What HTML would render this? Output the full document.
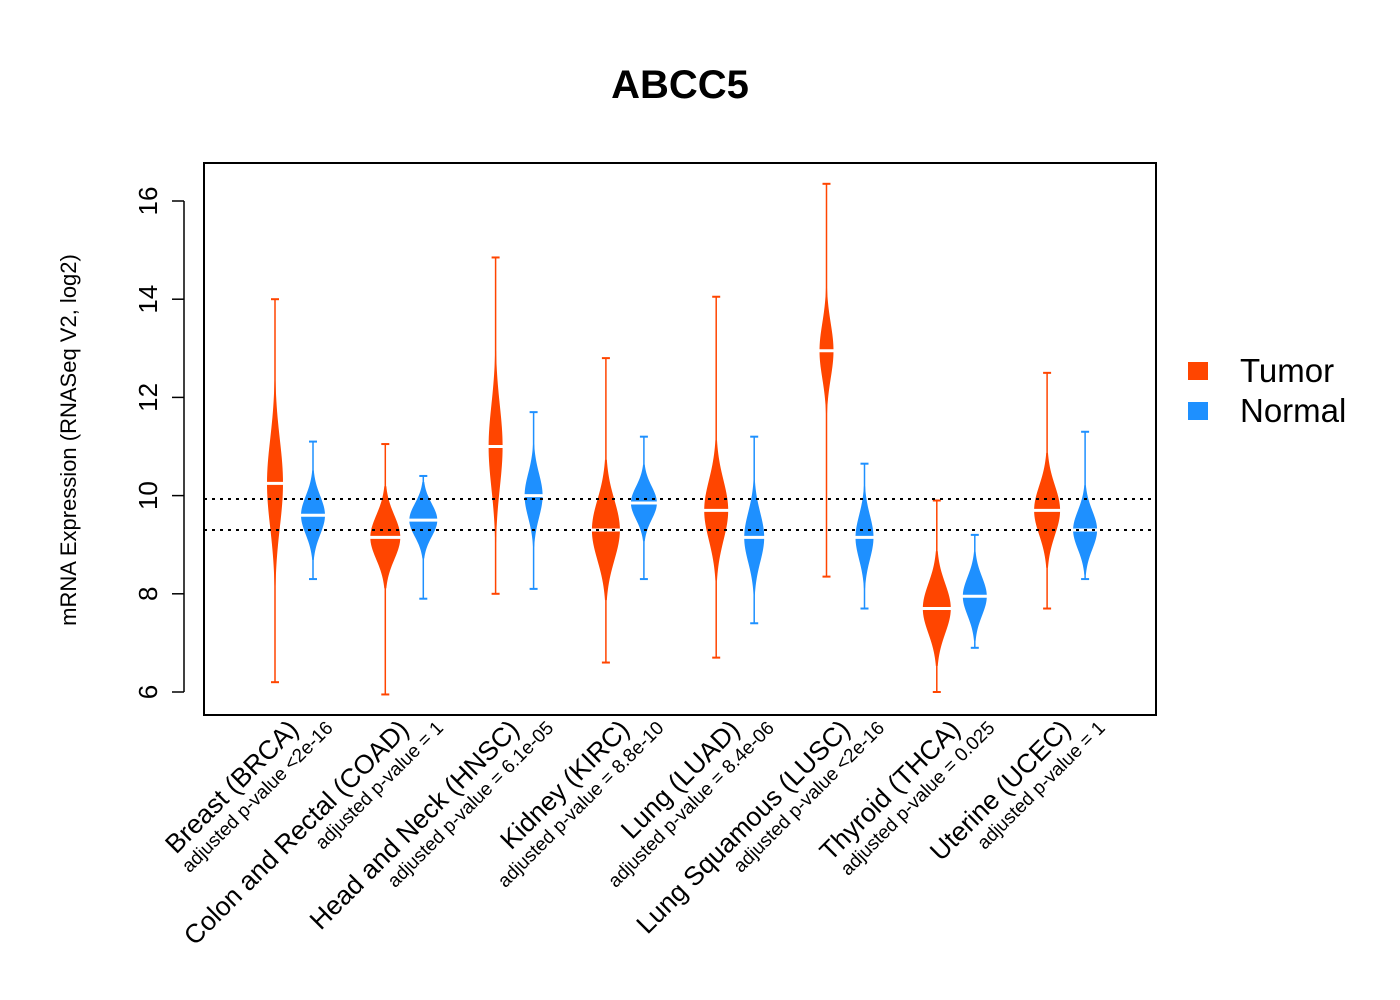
<!DOCTYPE html>
<html><head><meta charset="utf-8"><style>
body{margin:0;background:#fff}
svg{display:block;font-family:"Liberation Sans",Arial,sans-serif}
</style></head><body>
<svg id="chart" width="1400" height="1000" viewBox="0 0 1400 1000">
<text x="680" y="98" text-anchor="middle" font-size="40" font-weight="bold">ABCC5</text>
<g id="plot"></g>
<rect x="204" y="163" width="952" height="552" fill="none" stroke="#000" stroke-width="2"/>
<text transform="translate(76,440) rotate(-90)" text-anchor="middle" font-size="22">mRNA Expression (RNASeq V2, log2)</text>
<g id="yaxis"></g>
<g id="xlabels"></g>
<g>
<rect x="1188" y="362" width="20" height="18" fill="#FF4500"/>
<text x="1240" y="382" font-size="33">Tumor</text>
<rect x="1188" y="402" width="20" height="18" fill="#1E90FF"/>
<text x="1240" y="422" font-size="33">Normal</text>
</g>
</svg>
<script>
const categories=["Breast (BRCA)","Colon and Rectal (COAD)","Head and Neck (HNSC)","Kidney (KIRC)","Lung (LUAD)","Lung Squamous (LUSC)","Thyroid (THCA)","Uterine (UCEC)"];
const pvalues=["adjusted p-value <2e-16","adjusted p-value = 1","adjusted p-value = 6.1e-05","adjusted p-value = 8.8e-10","adjusted p-value = 8.4e-06","adjusted p-value <2e-16","adjusted p-value = 0.025","adjusted p-value = 1"];
const tumorMedian=[10.25,9.15,11.0,9.3,9.7,12.95,7.7,9.7];
const tumorSd=[0.8,0.4,0.75,0.55,0.55,0.5,0.45,0.45];
const tumorWidth=[8,15,7,14,12,7,14,13];
const tumorMin=[6.2,5.95,8.0,6.6,6.7,8.35,6.0,7.7];
const tumorMax=[14.0,11.05,14.85,12.8,14.05,16.35,9.9,12.5];
const normalMedian=[9.6,9.5,10.0,9.85,9.15,9.15,7.95,9.3];
const normalSd=[0.35,0.3,0.4,0.3,0.45,0.4,0.35,0.35];
const normalWidth=[12,14,9,13,10,9,12,12];
const normalMin=[8.3,7.9,8.1,8.3,7.4,7.7,6.9,8.3];
const normalMax=[11.1,10.4,11.7,11.2,11.2,10.65,9.2,11.3];
const yTicks=[6,8,10,12,14,16];
const refLines=[9.93,9.3];

const NS="http://www.w3.org/2000/svg";
const yScale=v=>692-(v-6)*49.1;
const xCenter=i=>294+i*110.3;
const plot=document.getElementById('plot');
function mk(tag,attrs,parent){const e=document.createElementNS(NS,tag);for(const k in attrs)e.setAttribute(k,attrs[k]);parent.appendChild(e);return e;}

function violin(cx,med,sd,hw,mn,mx,color,kind,i){
  const g=mk('g',{},plot);
  
  
  const ln=mk('line',{x1:cx,x2:cx,y1:yScale(mn),y2:yScale(mx),stroke:color,'stroke-width':1.5},g);
  
  
  const lo=Math.max(mn,med-2.6*sd),hi=Math.min(mx,med+2.6*sd);
  const n=40,L=[],R=[];
  for(let k=0;k<=n;k++){const v=lo+(hi-lo)*k/n;const z=(v-med)/sd;const w=hw*Math.exp(-0.5*z*z*0.8);R.push((cx+w)+','+yScale(v));L.unshift((cx-w)+','+yScale(v));}
  const p=mk('polygon',{points:R.concat(L).join(' '),fill:color},g);
  
  
  [mn,mx].forEach(v=>{const t=mk('line',{x1:cx-4,x2:cx+4,y1:yScale(v),y2:yScale(v),stroke:color,'stroke-width':2},g);
    
    });
  const m=mk('line',{x1:cx-hw-3,x2:cx+hw+3,y1:yScale(med),y2:yScale(med),stroke:'#fff','stroke-width':3},g);
  
  
}
categories.forEach((c,i)=>{
  violin(xCenter(i)-19,tumorMedian[i],tumorSd[i],tumorWidth[i],tumorMin[i],tumorMax[i],'#FF4500','tumor',i);
  violin(xCenter(i)+19,normalMedian[i],normalSd[i],normalWidth[i],normalMin[i],normalMax[i],'#1E90FF','normal',i);
});
refLines.forEach(v=>{const l=mk('line',{x1:204,x2:1156,y1:yScale(v),y2:yScale(v),stroke:'#000','stroke-width':2,'stroke-dasharray':'3,5'},plot);
  
  });
const ya=document.getElementById('yaxis');
const ax=mk('line',{x1:184,x2:184,y1:yScale(6),y2:yScale(16),stroke:'#000','stroke-width':1.5},ya);


yTicks.forEach(v=>{const t=mk('line',{x1:172,x2:184,y1:yScale(v),y2:yScale(v),stroke:'#000','stroke-width':1.5},ya);
  
  
  const tx=mk('text',{transform:`translate(157,${yScale(v)}) rotate(-90)`,'text-anchor':'middle','font-size':26},ya);
  tx.textContent=v;
  
  });
const xl=document.getElementById('xlabels');
categories.forEach((c,i)=>{
  const x=xCenter(i);
  const t=mk('text',{transform:`translate(${x+6},${731}) rotate(-45)`,'text-anchor':'end','font-size':26.5},xl);
  t.textContent=c;
  
  
  const p=mk('text',{transform:`translate(${x+40},${729}) rotate(-45)`,'text-anchor':'end','font-size':19},xl);
  p.textContent=pvalues[i];
  
  
});
</script>
</body></html>
